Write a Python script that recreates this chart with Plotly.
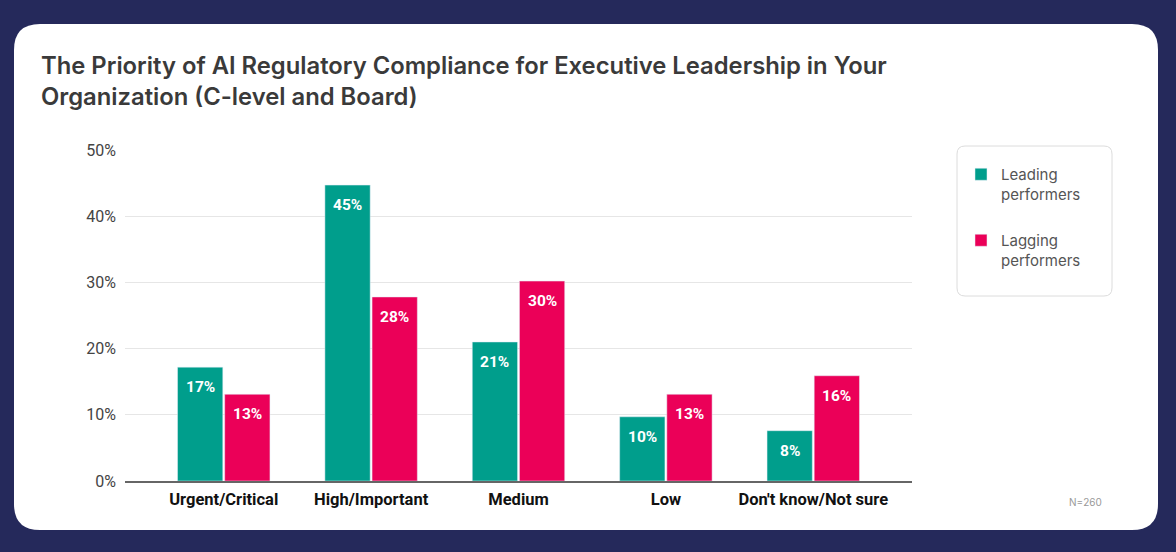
import plotly.graph_objects as go

categories = ["Urgent/Critical", "High/Important", "Medium", "Low", "Don't know/Not sure"]
leading = [17.2, 44.7, 21.0, 9.7, 7.6]
lagging = [13.1, 27.8, 30.2, 13.1, 15.9]
series_names = ["Leading<br>performers", "Lagging<br>performers"]
y_ticks = [0, 10, 20, 30, 40, 50]
y_tick_labels = ["0%", "10%", "20%", "30%", "40%", "50%"]

W, H = 1176, 552
L, R, T, B = 125, 912, 150, 481
NAVY = "#25295b"
TEAL = "#009e8c"
PINK = "#eb0058"
CAT_W = (R - L) / 5.34  # pixels per category
BAR_OFF = CAT_W * 0.64 / 4


def px(x):
    return (x - L) / (R - L)


def py(y):
    return (B - y) / (B - T)


def rounded(x0, y0, x1, y1, r):
    return (
        f"M {px(x0 + r)},{py(y0)} L {px(x1 - r)},{py(y0)} "
        f"Q {px(x1)},{py(y0)} {px(x1)},{py(y0 + r)} "
        f"L {px(x1)},{py(y1 - r)} Q {px(x1)},{py(y1)} {px(x1 - r)},{py(y1)} "
        f"L {px(x0 + r)},{py(y1)} Q {px(x0)},{py(y1)} {px(x0)},{py(y1 - r)} "
        f"L {px(x0)},{py(y0 + r)} Q {px(x0)},{py(y0)} {px(x0 + r)},{py(y0)} Z"
    )


fig = go.Figure()
for name, vals, col, grp in [(series_names[0], leading, TEAL, "a"), (series_names[1], lagging, PINK, "b")]:
    fig.add_trace(go.Bar(
        x=categories, y=vals, name=name, marker_color=col, legendgroup=grp,
        hoverinfo="skip",
    ))

annotations = []
for vals, shift in [(leading, -BAR_OFF), (lagging, BAR_OFF)]:
    for c, v in zip(categories, vals):
        annotations.append(dict(
            x=c, y=v, xref="x", yref="y", text=f"{v:.0f}%", showarrow=False,
            xanchor="center", yanchor="top", xshift=shift, yshift=-9,
            font=dict(family="Roboto", size=15.5, color="white", weight="bold"),
        ))

annotations += [
    dict(text="The Priority of AI Regulatory Compliance for Executive Leadership in Your<br>Organization (C-level and Board)",
         xref="paper", yref="paper", x=px(39), y=py(49), xanchor="left", yanchor="top",
         align="left", showarrow=False,
         font=dict(family="Inter", size=23.8, color="#3a3a3a", weight=600)),
    dict(text="N=260", xref="paper", yref="paper", x=px(1085), y=py(502),
         xanchor="center", yanchor="middle", showarrow=False,
         font=dict(family="Inter", size=10, color="#999")),
]

fig.update_layout(
    width=W, height=H,
    margin=dict(l=L, r=W - R, t=T, b=H - B, pad=0),
    paper_bgcolor=NAVY, plot_bgcolor="rgba(0,0,0,0)",
    barmode="group", bargap=0.36, bargroupgap=0.04,
    font=dict(family="Roboto", color="#444"),
    showlegend=True,
    legend=dict(
        x=px(961), y=py(158), xanchor="left", yanchor="top",
        bgcolor="rgba(0,0,0,0)", borderwidth=0,
        font=dict(family="Inter", size=15, color="#555"),
        traceorder="grouped", tracegroupgap=24, valign="top",
    ),
    xaxis=dict(
        range=[-0.67, 4.67], showgrid=False, showline=True, linecolor="#666", linewidth=1.5,
        ticks="", tickfont=dict(family="Roboto", size=16.5, color="#111", weight="bold"),
        ticklabelstandoff=2,
    ),
    yaxis=dict(
        range=[0, 50], tickvals=y_ticks, ticktext=y_tick_labels,
        showgrid=True, gridcolor="#e6e6e6", gridwidth=1.2, zeroline=False,
        tickfont=dict(family="Roboto", size=16, color="#444"), ticklabelstandoff=8,
    ),
    shapes=[
        dict(type="path", xref="paper", yref="paper", path=rounded(14, 24, 1158, 530, 26),
             fillcolor="white", line=dict(width=0), layer="below"),
        dict(type="path", xref="paper", yref="paper", path=rounded(957, 146, 1112, 296, 8),
             fillcolor="white", line=dict(color="#dcdcdc", width=1), layer="below"),
    ],
    annotations=annotations,
)

fig.write_html("out.html", config={"displayModeBar": False},
               post_script="document.body.style.margin='0';")
